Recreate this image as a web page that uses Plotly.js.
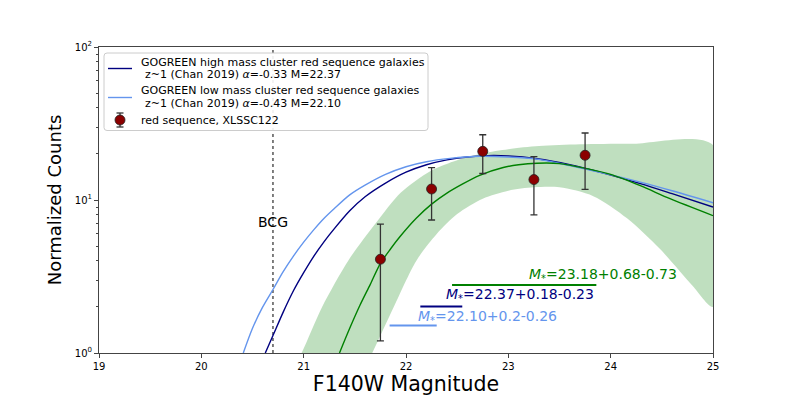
<!DOCTYPE html>
<html>
<head>
<meta charset="utf-8">
<script src="https://cdn.plot.ly/plotly-3.0.1.min.js"></script>
<style>
  html, body { margin: 0; padding: 0; background: #fff; }
  #chart { width: 793px; height: 397px; }
</style>
</head>
<body>
<div id="chart"></div>
<script>
'use strict';

/* global Plotly */

// Model curves (F140W magnitude -> normalized counts)
const highMassMag = [20.625, 20.7, 20.8, 20.9, 21.0, 21.1, 21.2, 21.3, 21.45, 21.6, 21.8, 22.0, 22.2, 22.4, 22.6, 22.8, 23.0, 23.28, 23.6, 23.93, 24.29, 24.6, 25.0];
const highMassCounts = [1.0, 1.3, 1.85, 2.55, 3.35, 4.3, 5.35, 6.5, 8.5, 10.5, 12.9, 15.2, 17.0, 18.3, 19.1, 19.5, 19.4, 18.6, 17.0, 15.0, 12.8, 11.0, 9.0];

const lowMassMag = [20.41, 20.5, 20.6, 20.7, 20.8, 20.9, 21.0, 21.1, 21.2, 21.3, 21.45, 21.6, 21.8, 22.0, 22.2, 22.43, 22.72, 23.0, 23.28, 23.6, 23.93, 24.29, 24.6, 25.0];
const lowMassCounts = [1.0, 1.45, 2.0, 2.6, 3.4, 4.3, 5.3, 6.4, 7.6, 8.8, 10.8, 12.5, 14.7, 16.5, 17.8, 18.7, 19.3, 19.1, 18.5, 16.8, 15.0, 13.1, 11.5, 9.6];

const fitMag = [21.35, 21.45, 21.55, 21.65, 21.75, 21.85, 21.94, 22.1, 22.25, 22.4, 22.55, 22.72, 22.95, 23.1, 23.28, 23.5, 23.77, 24.0, 24.29, 24.58, 25.0];
const fitCounts = [1.0, 1.45, 2.05, 2.8, 3.85, 4.8, 5.75, 7.6, 9.4, 11.1, 12.7, 14.5, 16.3, 17.0, 17.4, 17.3, 16.0, 14.7, 12.4, 10.2, 7.9];

// Confidence band of the fit
const bandUpperMag = [20.75, 20.98, 21.18, 21.44, 21.7, 21.95, 22.24, 22.5, 22.75, 23.0, 23.3, 23.7, 24.2, 25.0];
const bandUpperCounts = [0.5, 1.0, 2.0, 4.06, 7.0, 11.2, 15.5, 18.2, 20.2, 21.5, 22.5, 23.1, 23.3, 22.9];
const bandLowerMag = [21.45, 21.67, 21.88, 22.1, 22.3, 22.5, 22.75, 23.0, 23.25, 23.5, 23.83, 24.16, 24.48, 24.8, 25.0];
const bandLowerCounts = [0.5, 1.0, 2.0, 4.0, 6.0, 8.1, 10.2, 11.5, 12.1, 12.1, 10.6, 7.6, 4.8, 2.75, 2.0];

// Red sequence of XLSSC122
const rsMag = [21.75, 22.25, 22.75, 23.25, 23.75];
const rsCounts = [4.1, 11.8, 20.8, 13.6, 19.6];
const rsErrUp = [2.85, 4.5, 5.9, 5.6, 7.8];
const rsErrDown = [2.9, 4.4, 5.9, 5.6, 7.85];

// M* values with errors: fit / high mass / low mass
const mstarValue = [23.18, 22.37, 22.10];
const mstarErrHi = ['0.68', '0.18', '0.2'];
const mstarErrLo = ['0.73', '0.23', '0.26'];
const mstarLineLevel = [2.78, 2.01, 1.51];
const mstarLabelLevel = [3.24, 2.39, 1.71];
const mstarColors = ['green', 'navy', 'cornflowerblue'];

const bcgMag = 20.7;
const bcgLabelLevel = 7.2;

const yTickVals = [1, 10, 100];
const yTickText = ['10<sup>0</sup>', '10<sup>1</sup>', '10<sup>2</sup>'];
const yMinorVals = [2, 3, 4, 5, 6, 7, 8, 9, 20, 30, 40, 50, 60, 70, 80, 90];

const legendLines = [
  ['GOGREEN high mass cluster red sequence galaxies', 'z~1 (Chan 2019) <i>α</i>=-0.33 M=22.37'],
  ['GOGREEN low mass cluster red sequence galaxies', 'z~1 (Chan 2019) <i>α</i>=-0.43 M=22.10'],
  ['red sequence, XLSSC122'],
];

const FONT = 'DejaVu Sans, sans-serif';

// plot area in pixels, used to place the hand-made legend
const PLOT = {left: 99, right: 713, top: 47, bottom: 353};
const px = x => (x - PLOT.left) / (PLOT.right - PLOT.left);
const py = y => (PLOT.bottom - y) / (PLOT.bottom - PLOT.top);

function buildTraces() {
  const traces = [];

  traces.push({
    x: bandUpperMag.concat(bandLowerMag.slice().reverse()),
    y: bandUpperCounts.concat(bandLowerCounts.slice().reverse()),
    type: 'scatter',
    mode: 'lines',
    fill: 'toself',
    fillcolor: 'rgba(0,128,0,0.25)',
    line: {width: 0, color: 'rgba(0,0,0,0)', shape: 'spline', smoothing: 0.8},
    hoverinfo: 'skip',
  });

  traces.push({
    x: [bcgMag, bcgMag],
    y: [1, 100],
    type: 'scatter',
    mode: 'lines',
    line: {color: 'black', width: 1, dash: 'dot'},
  });

  const curves = [
    [highMassMag, highMassCounts, 'navy'],
    [lowMassMag, lowMassCounts, 'cornflowerblue'],
    [fitMag, fitCounts, 'green'],
  ];
  for (const [x, y, color] of curves) {
    traces.push({
      x, y,
      type: 'scatter',
      mode: 'lines',
      line: {color, width: 1.4, shape: 'spline', smoothing: 0.8},
    });
  }

  traces.push({
    x: rsMag,
    y: rsCounts,
    type: 'scatter',
    mode: 'markers',
    marker: {color: 'darkred', size: 10, line: {color: '#222', width: 0.8}},
    error_y: {
      type: 'data',
      symmetric: false,
      array: rsErrUp,
      arrayminus: rsErrDown,
      color: '#333',
      thickness: 1.3,
      width: 3.5,
    },
  });

  mstarValue.forEach((m, i) => {
    traces.push({
      x: [m - parseFloat(mstarErrLo[i]), m + parseFloat(mstarErrHi[i])],
      y: [mstarLineLevel[i], mstarLineLevel[i]],
      type: 'scatter',
      mode: 'lines',
      line: {color: mstarColors[i], width: 2},
    });
  });

  return traces;
}

function legendText(text, x, y) {
  return {
    xref: 'paper', yref: 'paper',
    x: px(x), y: py(y),
    xanchor: 'left', yanchor: 'middle',
    showarrow: false,
    borderpad: 0,
    text,
    font: {family: FONT, size: 11, color: 'black'},
  };
}

function buildAnnotations() {
  const annotations = mstarValue.map((m, i) => ({
    x: m,
    y: Math.log10(mstarLabelLevel[i]),
    xref: 'x', yref: 'y',
    xanchor: 'left', yanchor: 'middle',
    showarrow: false,
    text: '<i>M</i><sub>*</sub>=' + m.toFixed(2) + '+' + mstarErrHi[i] + '-' + mstarErrLo[i],
    font: {family: FONT, size: 14, color: mstarColors[i]},
  }));

  annotations.push({
    x: bcgMag,
    y: Math.log10(bcgLabelLevel),
    xref: 'x', yref: 'y',
    showarrow: false,
    text: 'BCG',
    font: {family: FONT, size: 14, color: 'black'},
  });

  // legend entries
  annotations.push(legendText(legendLines[0][0], 140, 62));
  annotations.push(legendText(legendLines[0][1], 143.5, 74.5));
  annotations.push(legendText(legendLines[1][0], 140, 90.5));
  annotations.push(legendText(legendLines[1][1], 143.5, 103));
  annotations.push(legendText(legendLines[2][0], 140, 120));

  return annotations;
}

function roundedRect(x0, y0, x1, y1, r) {
  const rx = r / (PLOT.right - PLOT.left);
  const ry = r / (PLOT.bottom - PLOT.top);
  const [a, b, c, d] = [px(x0), px(x1), py(y0), py(y1)];
  return `M ${a + rx},${c} L ${b - rx},${c} Q ${b},${c} ${b},${c - ry} ` +
    `L ${b},${d + ry} Q ${b},${d} ${b - rx},${d} L ${a + rx},${d} Q ${a},${d} ${a},${d + ry} ` +
    `L ${a},${c - ry} Q ${a},${c} ${a + rx},${c} Z`;
}

function buildLegendShapes() {
  const paper = {xref: 'paper', yref: 'paper', layer: 'above'};
  return [
    Object.assign({type: 'path', path: roundedRect(104, 53, 428, 130.5, 3),
      fillcolor: 'rgba(255,255,255,0.9)', line: {color: '#cccccc', width: 1}}, paper),
    Object.assign({type: 'line', x0: px(108), x1: px(132), y0: py(68.5), y1: py(68.5),
      line: {color: 'navy', width: 1.4}}, paper),
    Object.assign({type: 'line', x0: px(108), x1: px(132), y0: py(97.5), y1: py(97.5),
      line: {color: 'cornflowerblue', width: 1.4}}, paper),
    Object.assign({type: 'line', x0: px(120), x1: px(120), y0: py(113), y1: py(127),
      line: {color: '#333', width: 1.3}}, paper),
    Object.assign({type: 'line', x0: px(116.5), x1: px(123.5), y0: py(113), y1: py(113),
      line: {color: '#333', width: 1.3}}, paper),
    Object.assign({type: 'line', x0: px(116.5), x1: px(123.5), y0: py(127), y1: py(127),
      line: {color: '#333', width: 1.3}}, paper),
    Object.assign({type: 'circle', x0: px(115), x1: px(125), y0: py(115), y1: py(125),
      fillcolor: 'darkred', line: {color: '#222', width: 0.8}}, paper),
  ];
}

const layout = {
  width: 793,
  height: 397,
  margin: {l: 99, r: 80, t: 47, b: 44},
  paper_bgcolor: 'white',
  plot_bgcolor: 'white',
  font: {family: FONT, color: 'black'},
  showlegend: false,
  xaxis: {
    range: [19, 25],
    dtick: 1,
    showgrid: false,
    zeroline: false,
    showline: true,
    mirror: true,
    linecolor: '#444',
    linewidth: 1,
    ticks: 'outside',
    ticklen: 4,
    tickcolor: '#444',
    tickfont: {family: FONT, size: 10},
    title: {text: 'F140W Magnitude', font: {family: FONT, size: 20.5}, standoff: 0},
    automargin: false,
  },
  yaxis: {
    type: 'log',
    range: [0, 2],
    tickmode: 'array',
    tickvals: yTickVals,
    ticktext: yTickText,
    showgrid: false,
    zeroline: false,
    showline: true,
    mirror: true,
    linecolor: '#444',
    linewidth: 1,
    ticks: 'outside',
    ticklen: 4,
    tickcolor: '#444',
    tickfont: {family: FONT, size: 10},
    minor: {tickmode: 'array', tickvals: yMinorVals, ticks: 'outside', ticklen: 2, tickcolor: '#444', showgrid: false},
    title: {text: 'Normalized Counts', font: {family: FONT, size: 18}, standoff: 8},
    automargin: false,
  },
  shapes: buildLegendShapes(),
  annotations: buildAnnotations(),
};

Plotly.newPlot('chart', buildTraces(), layout, {displayModeBar: false, staticPlot: true});
</script>
</body>
</html>
